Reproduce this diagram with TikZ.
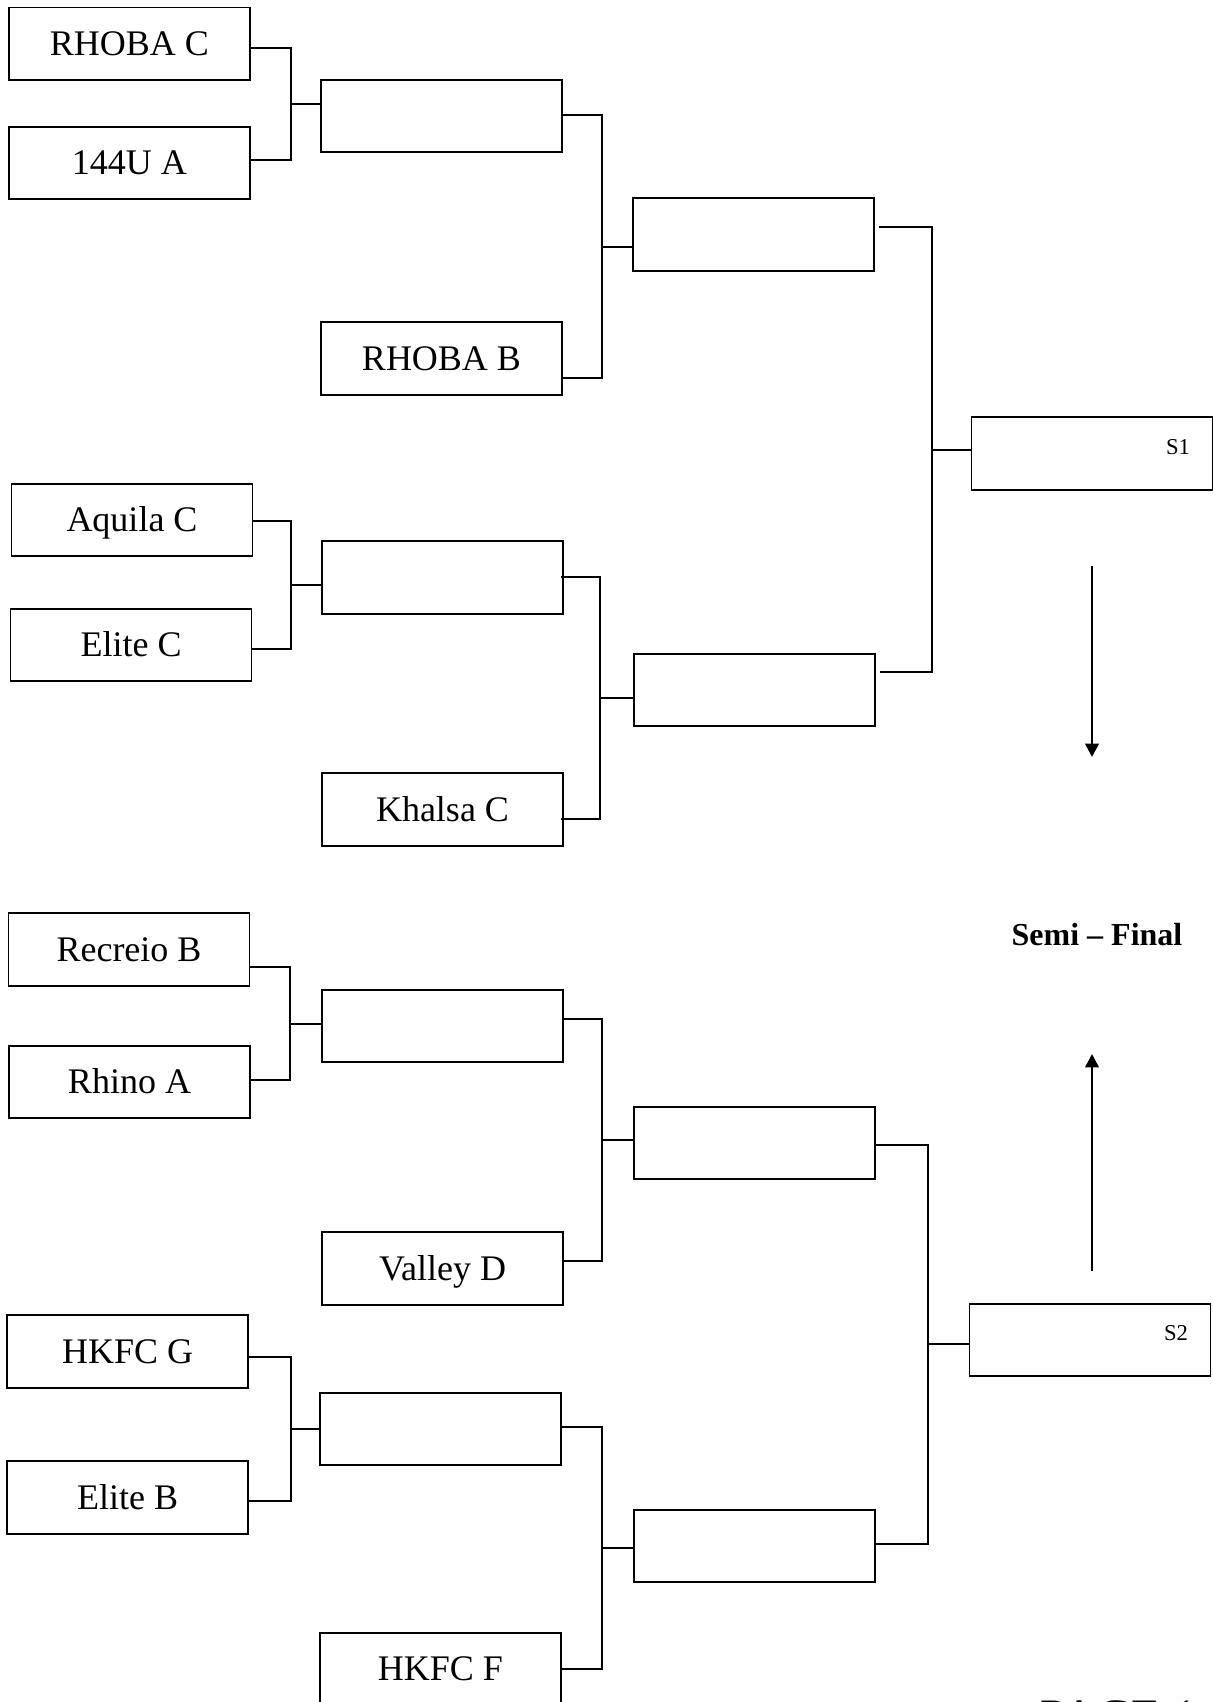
\documentclass[tikz,border=0pt]{standalone}
\usepackage{fontspec}
\setmainfont{Liberation Serif}
\usetikzlibrary{arrows.meta,calc}
\newcommand\teamfont{\fontsize{27}{30}\selectfont}
\newcommand\bracketlink[4]{%
  \draw[link] (#1) -- (#1 -| #3) -- (#2 -| #3) -- (#2);
  \draw[link] (#3 |- #4) -- (#4);}
\tikzset{
  box/.style={draw, line width=1.3pt, minimum width=180.75pt, minimum height=54.5pt,
    inner sep=0pt, font=\teamfont, text height=17.9pt, text depth=0pt},
  link/.style={line width=1.3pt},
  arrowline/.style={line width=2pt, -{Triangle[width=10pt,length=10pt]}},
}
\begin{document}
\begin{tikzpicture}[x=0.75pt,y=-0.75pt]
\useasboundingbox (0,0) rectangle (1213,1702);

% first round boxes
\node[box] (l1) at (129.3,43.8) {RHOBA C};
\node[box] (l2) at (129.3,163) {144U A};
\node[box] (l3) at (132,520) {Aquila C};
\node[box] (l4) at (131,645) {Elite C};
\node[box] (l5) at (129,949.5) {Recreio B};
\node[box] (l6) at (129.5,1082) {Rhino A};
\node[box] (l7) at (127.7,1351.5) {HKFC G};
\node[box] (l8) at (127.7,1497.5) {Elite B};

% second round boxes
\node[box] (a1) at (441.5,116) {};
\node[box] (b1) at (441.5,358.5) {RHOBA B};
\node[box] (a2) at (442.5,577.5) {};
\node[box] (b2) at (442.5,809.5) {Khalsa C};
\node[box] (a3) at (442.5,1026) {};
\node[box] (b3) at (442.5,1268.5) {Valley D};
\node[box] (a4) at (440.5,1429) {};
\node[box] (b4) at (440.5,1669) {HKFC F};

% quarter boxes
\node[box] (q1) at (753.5,234.5) {};
\node[box] (q2) at (754.5,690) {};
\node[box] (q3) at (754.5,1143) {};
\node[box] (q4) at (754.5,1546) {};

% semi boxes
\node[box] (s1) at (1092,453.5) {};
\node[box] (s2) at (1090,1340) {};
\node[font=\fontsize{17}{20}\selectfont, text height=11.3pt, text depth=0pt, inner sep=0pt] (s1l) at (1178,447) {S1};
\node[font=\fontsize{17}{20}\selectfont, text height=11.3pt, text depth=0pt, inner sep=0pt] (s2l) at (1176,1333) {S2};

% junction columns
\coordinate (j1) at (291,0);
\coordinate (j2) at (602,0);
\coordinate (j3) at (291,0);
\coordinate (j4) at (600,0);
\coordinate (j5) at (290,0);
\coordinate (j6) at (602,0);
\coordinate (j7) at (291,0);
\coordinate (j8) at (602,0);
\coordinate (js1) at (932,0);
\coordinate (js2) at (928,0);

% connector end points
\coordinate (l1o) at ($(l1.east)+(0,4)$);
\coordinate (l2o) at ($(l2.east)+(0,-3)$);
\coordinate (a1i) at ($(a1.west)+(0,-12)$);
\coordinate (l3o) at ($(l3.east)+(0,1)$);
\coordinate (l4o) at ($(l4.east)+(0,4)$);
\coordinate (a2i) at ($(a2.west)+(0,7.5)$);
\coordinate (l5o) at ($(l5.east)+(0,17.5)$);
\coordinate (l6o) at ($(l6.east)+(0,-2)$);
\coordinate (a3i) at ($(a3.west)+(0,-2)$);
\coordinate (l7o) at ($(l7.east)+(0,5.5)$);
\coordinate (l8o) at ($(l8.east)+(0,3.5)$);
\coordinate (a4i) at ($(a4.west)+(0,0)$);

\coordinate (a1o) at ($(a1.east)+(0,-1)$);
\coordinate (b1o) at ($(b1.east)+(0,19.5)$);
\coordinate (q1i) at ($(q1.west)+(0,12.5)$);
\coordinate (a2o) at ($(a2.east)+(-3,-0.5)$);
\coordinate (b2o) at ($(b2.east)+(-3,9.5)$);
\coordinate (q2i) at ($(q2.west)+(0,8)$);
\coordinate (a3o) at ($(a3.east)+(0,-7)$);
\coordinate (b3o) at ($(b3.east)+(0,-7.5)$);
\coordinate (q3i) at ($(q3.west)+(0,-3)$);
\coordinate (a4o) at ($(a4.east)+(0,-2)$);
\coordinate (b4o) at ($(b4.east)+(0,0)$);
\coordinate (q4i) at ($(q4.west)+(0,2)$);

\coordinate (q1o) at ($(q1.east)+(4,-7.5)$);
\coordinate (q2o) at ($(q2.east)+(4,-18)$);
\coordinate (s1i) at ($(s1.west)+(0,-3.5)$);
\coordinate (q3o) at ($(q3.east)+(0,2)$);
\coordinate (q4o) at ($(q4.east)+(0,-2)$);
\coordinate (s2i) at ($(s2.west)+(0,4)$);

% connectors
\bracketlink{l1o}{l2o}{j1}{a1i}
\bracketlink{l3o}{l4o}{j3}{a2i}
\bracketlink{l5o}{l6o}{j5}{a3i}
\bracketlink{l7o}{l8o}{j7}{a4i}
\bracketlink{a1o}{b1o}{j2}{q1i}
\bracketlink{a2o}{b2o}{j4}{q2i}
\bracketlink{a3o}{b3o}{j6}{q3i}
\bracketlink{a4o}{b4o}{j8}{q4i}
\bracketlink{q1o}{q2o}{js1}{s1i}
\bracketlink{q3o}{q4o}{js2}{s2i}

% arrows and title
\coordinate (dA) at (1092,566);
\coordinate (dB) at (1092,757);
\coordinate (uA) at (1092,1271);
\coordinate (uB) at (1092,1054);
\draw[arrowline] (dA) -- (dB);
\draw[arrowline] (uA) -- (uB);
\node[font=\fontsize{24}{28}\selectfont\bfseries, text height=16pt, text depth=0pt, inner sep=0pt] (semi) at (1097,935) {Semi – Final};
\node[font=\fontsize{36}{40}\selectfont, anchor=base west, inner sep=0pt] (page) at (1040,1732) {PAGE 1};
\end{tikzpicture}
\end{document}
